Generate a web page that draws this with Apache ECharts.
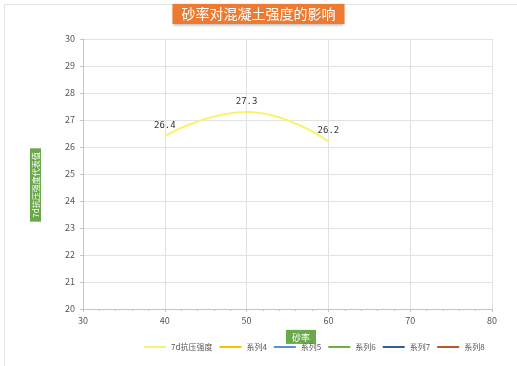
<!DOCTYPE html>
<html>
<head>
<meta charset="utf-8">
<script src="https://cdn.jsdelivr.net/npm/echarts@6/dist/echarts.min.js"></script>
<style>
  html, body { margin: 0; padding: 0; background: #fff; overflow: hidden; }
  #wrap { position: relative; width: 517px; height: 366px; }
  #frame { position: absolute; left: 4px; top: 4px; width: 513px; height: 362px; border-top: 1px solid #e2e2e2; border-left: 1px solid #e2e2e2; }
  #main { position: absolute; left: 0; top: 0; width: 517px; height: 366px; }
</style>
</head>
<body>
<div id="wrap">
  <div id="frame"></div>
  <div id="main"></div>
</div>
<script>
// 砂率 (x) 与 7d抗压强度 (y)
var sandRatio = [40, 50, 60]
var strength7d = [26.4, 27.3, 26.2]
var seriesNames = ['7d抗压强度', '系列4', '系列5', '系列6', '系列7', '系列8']
var seriesColors = ['#f9f36e', '#ffc000', '#5b8fd5', '#70ad47', '#2f5f95', '#b85a23']

var myChart = echarts.init(document.getElementById('main'))

var series = [{
  name: seriesNames[0],
  type: 'line',
  smooth: true,
  symbol: 'circle',
  symbolSize: 0,
  showSymbol: true,
  lineStyle: { color: seriesColors[0], width: 2 },
  itemStyle: { color: seriesColors[0] },
  label: {
    show: true,
    position: 'top',
    distance: 6,
    color: '#333',
    fontSize: 9,
    fontFamily: 'DejaVu Sans Mono',
    formatter: function (p) { return p.value[1].toFixed(1) }
  },
  data: sandRatio.map(function (x, i) { return [x, strength7d[i]] })
}]
// 空的系列，只为图例
for (var i = 1; i < seriesNames.length; i++) {
  series.push({
    name: seriesNames[i],
    type: 'line',
    symbol: 'none',
    lineStyle: { color: seriesColors[i], width: 2 },
    itemStyle: { color: seriesColors[i] },
    data: []
  })
}

myChart.setOption({
  animation: false,
  textStyle: { fontFamily: 'Noto Sans CJK SC, sans-serif' },
  title: {
    text: '砂率对混凝土强度的影响',
    left: 'center',
    top: 4,
    padding: [3, 9, 3, 9],
    backgroundColor: '#ec7a30',
    shadowBlur: 3,
    shadowColor: 'rgba(0,0,0,0.35)',
    shadowOffsetY: 1,
    textStyle: { color: '#fff', fontSize: 14, fontWeight: 'normal' }
  },
  legend: {
    left: 138,
    bottom: 10,
    itemWidth: 22,
    itemHeight: 8,
    itemGap: 6,
    textStyle: { fontSize: 8, color: '#555' },
    data: seriesNames.map(function (n, i) {
      return { name: n, itemStyle: { opacity: 0 }, lineStyle: { color: seriesColors[i], width: 2, opacity: 1 } }
    })
  },
  grid: { left: 83, right: 25, top: 39, bottom: 57 },
  xAxis: {
    type: 'value',
    min: 30,
    max: 80,
    interval: 10,
    name: '{g|砂率}',
    nameLocation: 'middle',
    nameGap: 7,
    nameTextStyle: {
      padding: [0, 0, 0, 27],
      rich: { g: { backgroundColor: '#6aa84a', color: '#fff', fontSize: 9, padding: [3, 6, 2, 6] } }
    },
    axisLine: { lineStyle: { color: '#c4c4c4' } },
    axisTick: { show: true, length: 3, lineStyle: { color: '#c4c4c4' } },
    minorTick: { show: true, splitNumber: 5, length: 2, lineStyle: { color: '#c4c4c4' } },
    axisLabel: { color: '#555', fontSize: 9, margin: 7 },
    splitLine: { show: true, lineStyle: { color: '#e2e2e2' } }
  },
  yAxis: {
    type: 'value',
    min: 20,
    max: 30,
    interval: 1,
    name: '{g|7d抗压强度代表值}',
    nameLocation: 'middle',
    nameGap: 42,
    nameRotate: 90,
    nameTextStyle: {
      padding: [0, 22, 0, 0],
      rich: { g: { backgroundColor: '#6aa84a', color: '#fff', fontSize: 8, padding: [2, 4, 1, 4] } }
    },
    axisLine: { show: true, lineStyle: { color: '#c4c4c4' } },
    axisTick: { show: true, length: 3, lineStyle: { color: '#c4c4c4' } },
    axisLabel: { color: '#555', fontSize: 9, margin: 8 },
    splitLine: { show: true, lineStyle: { color: '#e2e2e2' } }
  },
  series: series
})
</script>
</body>
</html>
